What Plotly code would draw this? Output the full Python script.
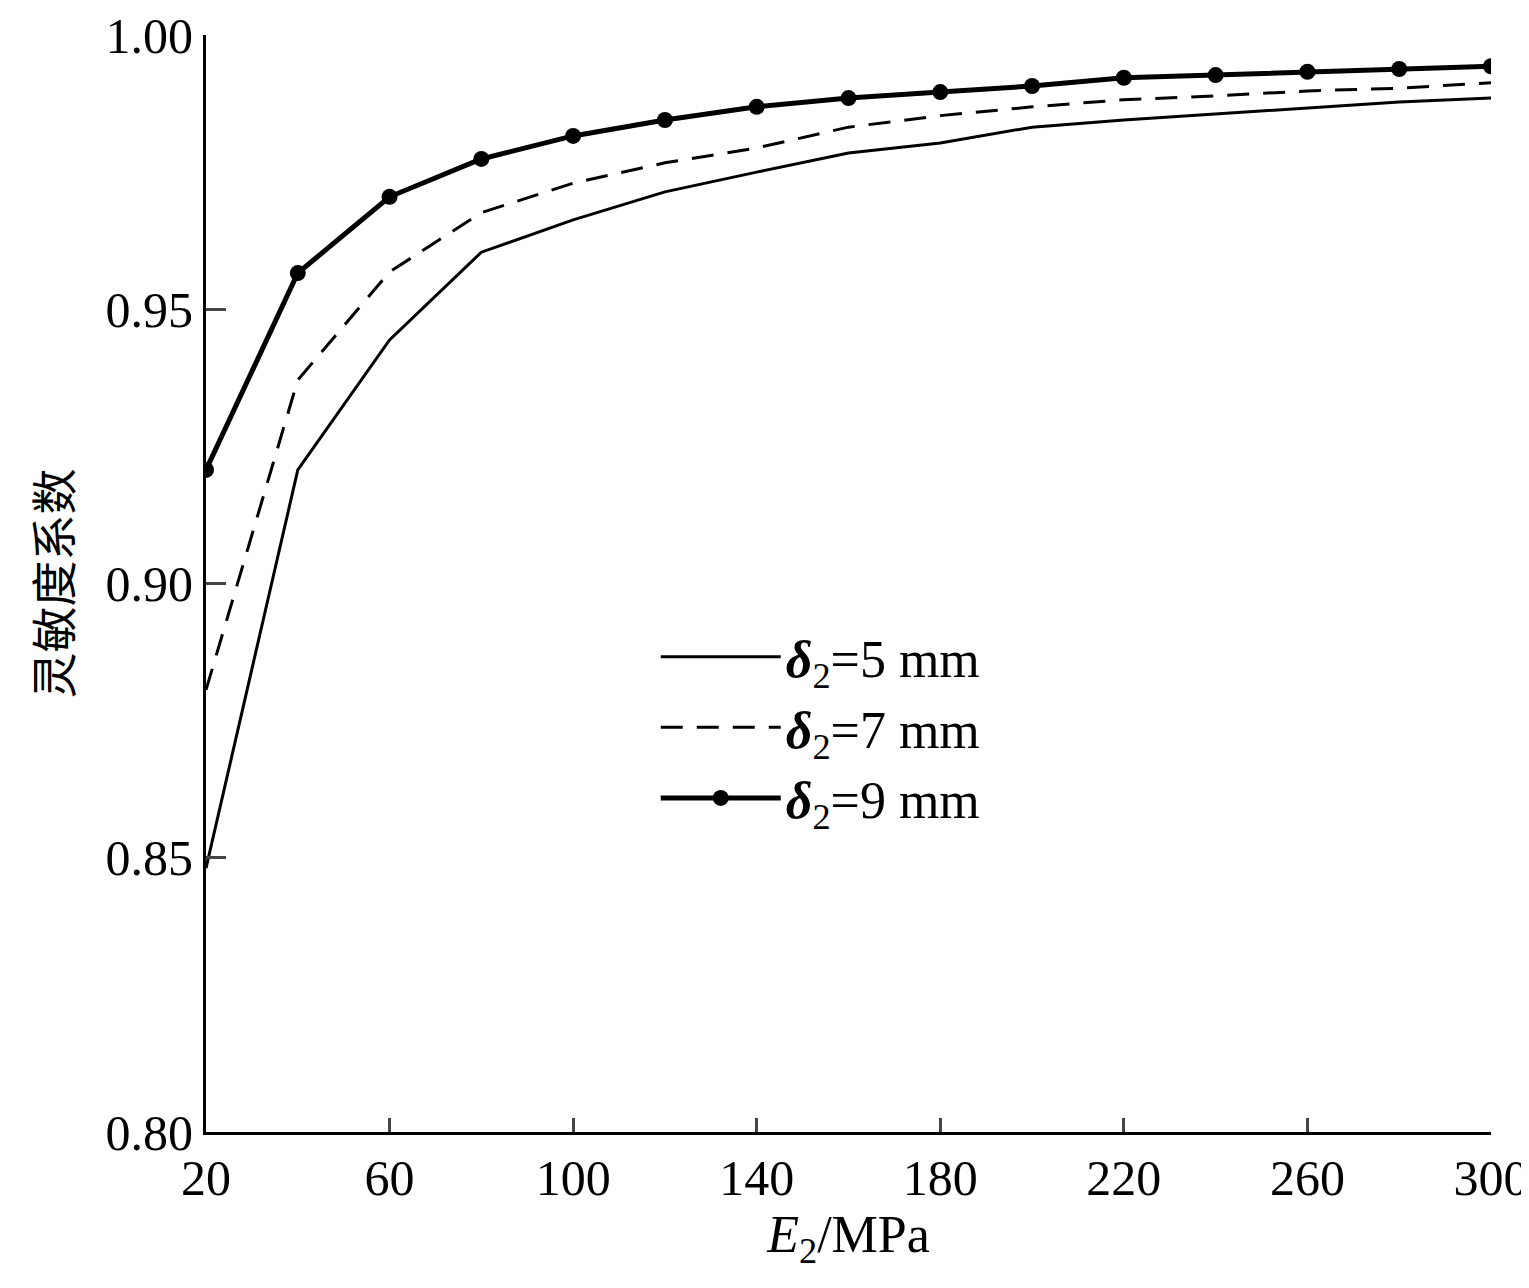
import plotly.graph_objects as go

x = [20, 40, 60, 80, 100, 120, 140, 160, 180, 200, 220, 240, 260, 280, 300]
y5 = [0.8481, 0.9207, 0.9444, 0.9604, 0.9663, 0.9714, 0.9750, 0.9785, 0.9803, 0.9832, 0.9845, 0.9856, 0.9867, 0.9878, 0.9885]
y7 = [0.8806, 0.9371, 0.9568, 0.9676, 0.9730, 0.9767, 0.9794, 0.9832, 0.9853, 0.9869, 0.9882, 0.9889, 0.9898, 0.9903, 0.9913]
y9 = [0.9207, 0.9566, 0.9705, 0.9774, 0.9816, 0.9845, 0.9869, 0.9885, 0.9896, 0.9907, 0.9922, 0.9927, 0.9933, 0.9938, 0.9943]
names = ["<b><i>δ</i></b><sub>2</sub>=5 mm", "<b><i>δ</i></b><sub>2</sub>=7 mm", "<b><i>δ</i></b><sub>2</sub>=9 mm"]

fig = go.Figure()
fig.add_trace(go.Scatter(x=x, y=y5, mode="lines", name=names[0], line=dict(color="black", width=3)))
fig.add_trace(go.Scatter(x=x, y=y7, mode="lines", name=names[1], line=dict(color="black", width=3, dash="22px,14px")))
fig.add_trace(go.Scatter(x=x, y=y9, mode="lines+markers", name=names[2],
                         line=dict(color="black", width=5), marker=dict(color="black", size=16)))

font = "Liberation Serif"
fig.update_layout(
    width=1529, height=1288, paper_bgcolor="white", plot_bgcolor="white",
    margin=dict(l=198, r=46, t=27, b=164),
    font=dict(family=font, size=50, color="black"),
    legend=dict(x=0.35, y=0.47, xanchor="left", yanchor="top", bgcolor="rgba(0,0,0,0)",
                font=dict(size=52), itemwidth=120, tracegroupgap=10),
    xaxis=dict(range=[20, 300], tickvals=list(range(20, 301, 40)), ticks="inside", ticklen=14, tickwidth=3,
               ticklabeloverflow="allow", automargin=False,
               showline=True, linecolor="black", linewidth=3, showgrid=False, zeroline=False,
               title=dict(text="<i>E</i><sub>2</sub>/MPa", font=dict(size=52), standoff=5)),
    yaxis=dict(range=[0.80, 1.00], tickvals=[0.80, 0.85, 0.90, 0.95, 1.00], tickformat=".2f",
               ticks="inside", ticklen=20, tickwidth=3, ticklabeloverflow="allow", automargin=False,
               showline=True, linecolor="black", linewidth=3, showgrid=False, zeroline=False,
               title=dict(text="灵敏度系数", font=dict(family="Noto Sans CJK SC", size=46), standoff=20)),
)
fig.write_html("out.html")
